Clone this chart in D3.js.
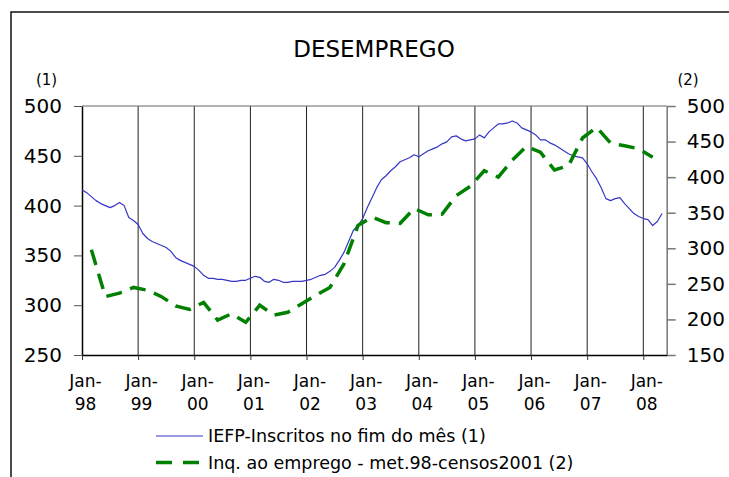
<!DOCTYPE html>
<html>
<head>
<meta charset="utf-8">
<script src="https://cdn.jsdelivr.net/npm/d3@7"></script>
<style>
  body { margin: 0; background: #fff; }
  svg { display: block; font-family: "DejaVu Sans", sans-serif; }
</style>
</head>
<body>
<div id="chart"></div>
<script>
// data
const yearLabels = ["98", "99", "00", "01", "02", "03", "04", "05", "06", "07", "08"];
const leftTicks = [250, 300, 350, 400, 450, 500];
const rightTicks = [150, 200, 250, 300, 350, 400, 450, 500];

// IEFP registered unemployed, monthly from Jan-98 (thousands)
const iefp = [
  416, 413, 409, 405, 402, 400, 398, 400, 403, 400, 388, 385,
  381, 372, 367, 364, 362, 360, 358, 354, 348, 345, 343, 341,
  339, 335, 330, 327, 327, 326, 326, 325, 324, 324, 325, 325,
  327, 329, 328, 324, 323, 326, 325, 323, 323, 324, 324, 324,
  325, 326, 328, 330, 331, 334, 338, 345, 353, 364, 375, 380,
  387, 398, 408, 418, 426, 430, 435, 439, 444, 446, 448, 451,
  449, 452, 455, 457, 459, 462, 464, 469, 470, 467, 465, 466,
  467, 471, 468, 474, 478, 482, 482, 483, 485, 483, 478, 476,
  474, 471, 466, 466, 463, 461, 458, 455, 452, 450, 449, 448,
  442, 434, 427, 418, 407, 405, 407, 408, 402, 397, 392, 389,
  387, 386, 380, 384, 392
];

// employment survey, quarterly (end of quarter, from Mar-98)
const inquerito = [
  298, 232, 237, 245, 241, 232, 219, 214, 224, 199, 208, 196,
  220, 206, 210, 222, 234, 245, 278, 332, 344, 336, 335, 356,
  347, 348, 374, 387, 409, 400, 424, 443, 435, 410, 416, 455,
  470, 448, 444, 440, 428
];

const W = 729, H = 477;
const plot = { left: 82, right: 666.7, top: 106, bottom: 355 };

const svg = d3.select("#chart").append("svg")
  .attr("width", W)
  .attr("height", H);

// outer frame
svg.append("path")
  .attr("d", `M11,${H + 5}V12H${W + 5}`)
  .attr("fill", "none")
  .attr("stroke", "#111")
  .attr("stroke-width", 1.5);

const x = d3.scaleLinear().domain([0, 125]).range([plot.left, plot.right]);
const yL = d3.scaleLinear().domain([250, 500]).range([plot.bottom, plot.top]);
const yR = d3.scaleLinear().domain([150, 500]).range([plot.bottom, plot.top]);

const janMonths = yearLabels.map((d, i) => i * 12);

// vertical grid at each January
svg.append("g")
  .selectAll("line")
  .data(janMonths.slice(1))
  .join("line")
  .attr("x1", (d) => x(d))
  .attr("x2", (d) => x(d))
  .attr("y1", plot.top)
  .attr("y2", plot.bottom)
  .attr("stroke", "#222")
  .attr("stroke-width", 1);

// top border of the plot
svg.append("line")
  .attr("x1", plot.left)
  .attr("x2", plot.right)
  .attr("y1", plot.top)
  .attr("y2", plot.top)
  .attr("stroke", "#666");

// left axis
const gL = svg.append("g")
  .attr("transform", `translate(${plot.left},0)`)
  .call(d3.axisLeft(yL).tickValues(leftTicks).tickSize(8).tickPadding(12).tickSizeOuter(0));
gL.select(".domain").attr("stroke", "#000").attr("stroke-width", 1.5);
gL.selectAll(".tick line").attr("stroke", "#555");
gL.selectAll("text").attr("font-size", 20).attr("fill", "#000").attr("font-family", "DejaVu Sans");

// right axis
const gR = svg.append("g")
  .attr("transform", `translate(${plot.right},0)`)
  .call(d3.axisRight(yR).tickValues(rightTicks).tickSize(9).tickPadding(11).tickSizeOuter(0));
gR.select(".domain").attr("stroke", "#777").attr("stroke-width", 1.5);
gR.selectAll(".tick line").attr("stroke", "#777").attr("stroke-width", 1.5);
gR.selectAll("text").attr("font-size", 20).attr("fill", "#000").attr("font-family", "DejaVu Sans");

// bottom axis
const gB = svg.append("g")
  .attr("transform", `translate(0,${plot.bottom})`)
  .call(d3.axisBottom(x).tickValues(janMonths).tickSize(5).tickFormat("").tickSizeOuter(0));
gB.select(".domain").attr("stroke", "#000").attr("stroke-width", 1.5);
gB.selectAll(".tick line").attr("stroke", "#333");

const xl = svg.append("g")
  .selectAll("text")
  .data(yearLabels)
  .join("text")
  .attr("text-anchor", "middle")
  .attr("font-size", 17)
  .attr("fill", "#000");
xl.append("tspan")
  .attr("x", (d, i) => x(janMonths[i]) + 3.5)
  .attr("y", 387)
  .text("Jan-");
xl.append("tspan")
  .attr("x", (d, i) => x(janMonths[i]) + 3.5)
  .attr("y", 410)
  .text((d) => d);

// series
const blueLine = d3.line()
  .x((d, i) => x(i))
  .y((d) => yL(d));

svg.append("path")
  .datum(iefp)
  .attr("d", blueLine)
  .attr("fill", "none")
  .attr("stroke", "#3636c8")
  .attr("stroke-width", 1.2)
  .attr("stroke-linejoin", "round");

const greenLine = d3.line()
  .x((d, i) => x(2 + i * 3))
  .y((d) => yR(d));

svg.append("path")
  .datum(inquerito)
  .attr("d", greenLine)
  .attr("fill", "none")
  .attr("stroke", "#008000")
  .attr("stroke-width", 3.5)
  .attr("stroke-dasharray", "16,9");

// titles
svg.append("text")
  .attr("x", 374)
  .attr("y", 57)
  .attr("text-anchor", "middle")
  .attr("font-size", 23)
  .text("DESEMPREGO");

svg.append("text")
  .attr("x", 46.5)
  .attr("y", 85)
  .attr("text-anchor", "middle")
  .attr("font-size", 15)
  .text("(1)");

svg.append("text")
  .attr("x", 688)
  .attr("y", 85)
  .attr("text-anchor", "middle")
  .attr("font-size", 15)
  .text("(2)");

// legend
const legendItems = [
  { name: "IEFP-Inscritos no fim do mês (1)", color: "#3636c8", width: 1.2, dash: null },
  { name: "Inq. ao emprego - met.98-censos2001 (2)", color: "#008000", width: 3.5, dash: "16,11" }
];

const leg = svg.append("g")
  .selectAll("g")
  .data(legendItems)
  .join("g")
  .attr("transform", (d, i) => `translate(156,${436 + i * 26.5})`);

leg.append("line")
  .attr("x1", 0)
  .attr("x2", 47)
  .attr("stroke", (d) => d.color)
  .attr("stroke-width", (d) => d.width)
  .attr("stroke-dasharray", (d) => d.dash);

leg.append("text")
  .attr("x", 52)
  .attr("y", 6)
  .attr("font-size", 17.5)
  .text((d) => d.name);
</script>
</body>
</html>
